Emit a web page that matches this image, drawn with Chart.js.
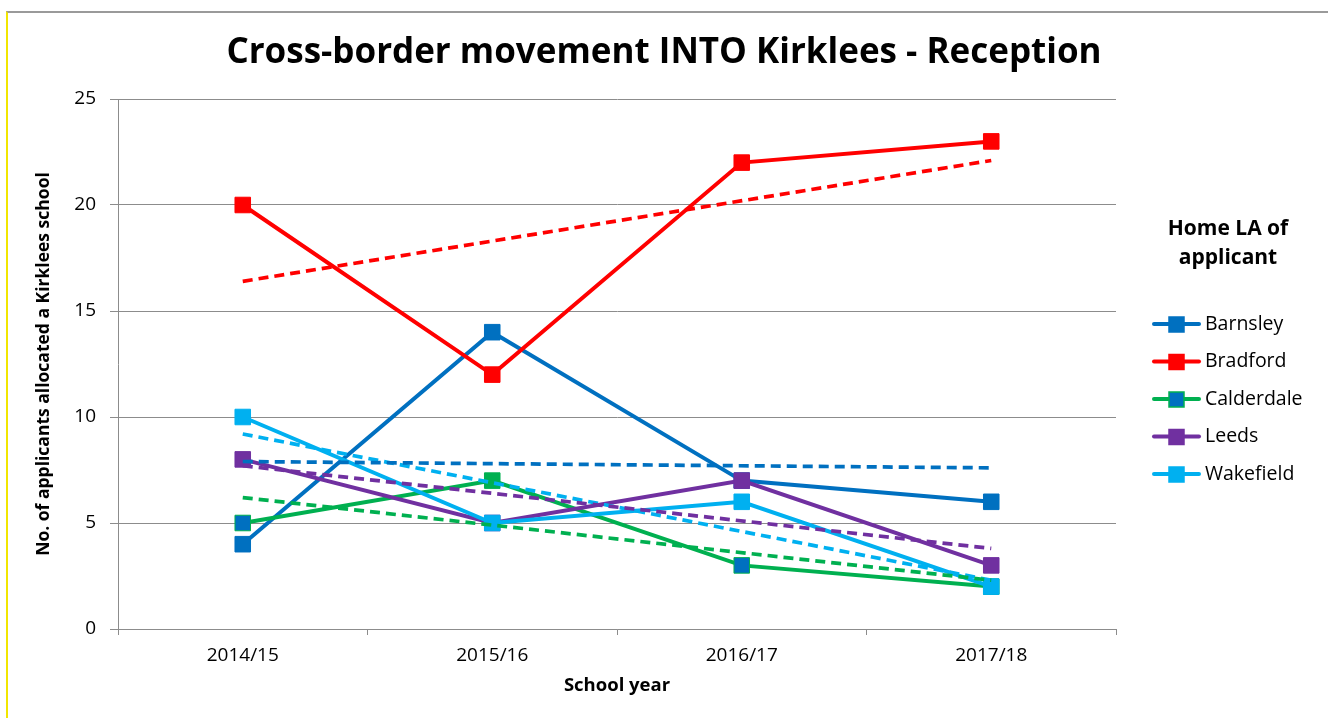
<!DOCTYPE html>
<html>
<head>
<meta charset="utf-8">
<script src="https://cdn.jsdelivr.net/npm/chart.js@4"></script>
<style>
  html, body { margin: 0; padding: 0; background: #fff; overflow: hidden; }
  #wrap { position: relative; width: 1328px; height: 718px; }
  #frame {
    position: absolute; left: 6px; top: 11px; width: 1320px; height: 760px;
    border-top: 2px solid #9a9a9a; border-left: 2px solid #f2e600; border-right: 1px solid #dcdcdc;
    pointer-events: none;
  }
</style>
</head>
<body>
<div id="wrap">
  <canvas id="myLineChart" width="1328" height="718"></canvas>
  <div id="frame"></div>
</div>
<script>
// values
const years = ['2014/15', '2015/16', '2016/17', '2017/18'];
const barnsley = [4, 14, 7, 6];
const bradford = [20, 12, 22, 23];
const calderdale = [5, 7, 3, 2];
const leeds = [8, 5, 7, 3];
const wakefield = [10, 5, 6, 2];

// dashed trend lines: value at first and last year
const barnsleyTrend = [7.9, 7.6];
const bradfordTrend = [16.4, 22.1];
const calderdaleTrend = [6.2, 2.3];
const leedsTrend = [7.7, 3.8];
const wakefieldTrend = [9.2, 2.3];

const yTicks = [0, 5, 10, 15, 20, 25];
const legendTitle = ['Home LA of', 'applicant'];

const FONT = "'Open Sans', 'Liberation Sans', sans-serif";
const GRID = '#8c8c8c';

function series(label, data, color, fill, order) {
  return {
    label: label,
    data: data,
    borderColor: color,
    backgroundColor: color,
    borderWidth: 4,
    pointStyle: 'rect',
    pointRadius: 11,
    pointHoverRadius: 11,
    pointBorderWidth: 1,
    pointBackgroundColor: fill || color,
    pointBorderColor: color,
    tension: 0,
    order: order
  };
}

function trend(label, ends, color) {
  return {
    label: label + ' trend',
    isTrend: true,
    data: [ends[0], null, null, ends[1]],
    spanGaps: true,
    borderColor: color,
    borderWidth: 3.7,
    borderDash: [10, 6],
    pointRadius: 0,
    pointHoverRadius: 0,
    fill: false,
    order: 0
  };
}

// legend drawn at the right like the original
const sideLegend = {
  id: 'sideLegend',
  afterDraw(chart) {
    const ctx = chart.ctx;
    ctx.save();
    ctx.fillStyle = '#000';
    ctx.textAlign = 'center';
    ctx.textBaseline = 'middle';
    ctx.font = 'bold 21px ' + FONT;
    legendTitle.forEach((t, i) => ctx.fillText(t, 1228, 229 + i * 29));

    const items = chart.data.datasets.filter(d => !d.isTrend);
    items.forEach((d, i) => {
      const y = 324 + i * 37.5;
      ctx.strokeStyle = d.borderColor;
      ctx.lineWidth = 4;
      ctx.lineCap = 'round';
      ctx.beginPath();
      ctx.moveTo(1154, y);
      ctx.lineTo(1199, y);
      ctx.stroke();
      const fill = Array.isArray(d.pointBackgroundColor) ? d.pointBackgroundColor[0] : d.pointBackgroundColor;
      ctx.fillStyle = fill;
      ctx.fillRect(1169, y - 7, 15, 15);
      ctx.lineWidth = 1.5;
      ctx.strokeStyle = d.borderColor;
      ctx.strokeRect(1169, y - 7, 15, 15);
      ctx.fillStyle = '#000';
      ctx.textAlign = 'left';
      ctx.font = '19.5px ' + FONT;
      ctx.fillText(d.label, 1205, y);
    });
    ctx.restore();
  }
};

var ctx = document.getElementById('myLineChart');
var myChart = new Chart(ctx, {
  type: 'line',
  data: {
    labels: years,
    datasets: [
      series('Barnsley', barnsley, '#0070C0', null, 5),
      series('Bradford', bradford, '#FF0000', null, 4),
      series('Calderdale', calderdale, '#00B050', ['#0070C0', '#00B050', '#0070C0', '#0070C0'], 3),
      series('Leeds', leeds, '#7030A0', null, 2),
      series('Wakefield', wakefield, '#00B0F0', null, 1),
      trend('Barnsley', barnsleyTrend, '#0070C0'),
      trend('Bradford', bradfordTrend, '#FF0000'),
      trend('Calderdale', calderdaleTrend, '#00B050'),
      trend('Leeds', leedsTrend, '#7030A0'),
      trend('Wakefield', wakefieldTrend, '#00B0F0')
    ]
  },
  options: {
    responsive: false,
    animation: false,
    events: [],
    layout: { padding: { left: 0, top: 15, right: 0, bottom: 21 } },
    plugins: {
      legend: { display: false },
      tooltip: { enabled: false },
      title: {
        display: true,
        text: 'Cross-border movement INTO Kirklees - Reception',
        color: '#000',
        font: { family: FONT, size: 35, weight: 'bold' },
        padding: { top: 17, bottom: 25 }
      }
    },
    scales: {
      x: {
        offset: true,
        afterFit: s => { s.height = 68; },
        grid: { display: true, offset: true, drawOnChartArea: false, drawTicks: true, tickLength: 6, color: GRID },
        border: { display: true, color: GRID, width: 1 },
        ticks: { color: '#000', padding: 9, font: { family: FONT, size: 19 } },
        title: { display: true, text: 'School year', color: '#000', font: { family: FONT, size: 18.5, weight: 'bold' }, padding: { top: 0, bottom: 0 } }
      },
      y: {
        min: 0,
        max: 25,
        afterFit: s => { s.width = 118; },
        afterBuildTicks: s => { s.ticks = yTicks.map(v => ({ value: v })); },
        grid: { color: GRID, tickLength: 8, drawTicks: true },
        border: { display: true, color: GRID, width: 1 },
        ticks: { color: '#000', padding: 14, font: { family: FONT, size: 19 } },
        title: { display: true, text: 'No. of applicants allocated a Kirklees school', color: '#000', font: { family: FONT, size: 17.5, weight: 'bold' }, padding: { top: 34, bottom: 0 } }
      },
      // empty right-hand axis that keeps room for the legend
      side: {
        type: 'linear',
        position: 'right',
        afterFit: s => { s.width = 212; },
        grid: { display: false },
        border: { display: false },
        ticks: { display: false }
      }
    }
  },
  plugins: [sideLegend]
});
</script>
</body>
</html>
